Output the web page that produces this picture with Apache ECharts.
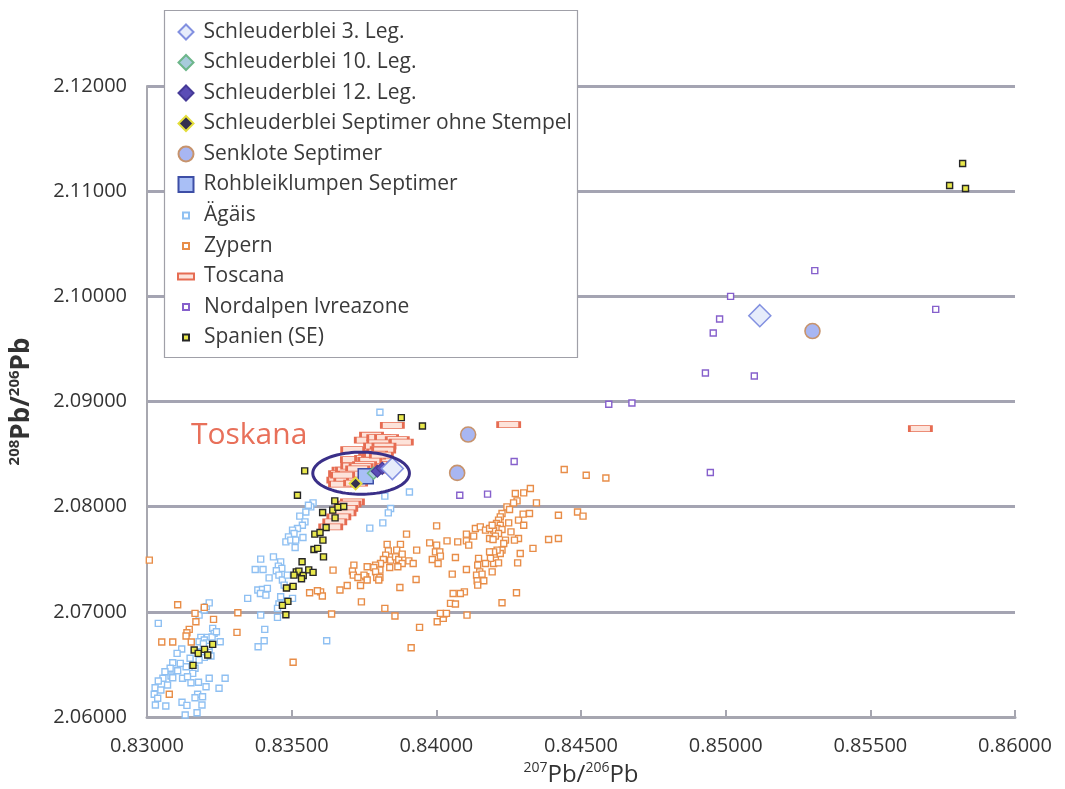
<!DOCTYPE html>
<html>
<head>
<meta charset="utf-8">
<title>Bleiisotopen</title>
<script src="https://cdn.jsdelivr.net/npm/echarts/dist/echarts.min.js"></script>
<style>
  html, body { margin: 0; padding: 0; background: #ffffff; }
  #chart { width: 1065px; height: 789px; }
</style>
</head>
<body>
<div id="chart"></div>
<script>
// 207Pb/206Pb (x) against 208Pb/206Pb (y)

const xTicks = { min: 0.83, max: 0.86, step: 0.005 };
const yTicks = { min: 2.06, max: 2.12, step: 0.01 };

const schleuder3 = [[0.85118, 2.09816], [0.83848, 2.08362]];
const schleuder10 = [[0.83783, 2.08318]];
const schleuder12 = [[0.83796, 2.08337], [0.83813, 2.08365]];
const schleuderOhne = [[0.83721, 2.08220]];
const senklote = [[0.85300, 2.09670], [0.84110, 2.08686], [0.84072, 2.08321]];
const rohblei = [[0.83756, 2.08290]];

const aegaeis = [
  [0.83805, 2.08898], [0.83907, 2.08140], [0.83822, 2.08100], [0.83842, 2.07983], [0.83834, 2.07941],
  [0.83815, 2.07846], [0.83770, 2.07796],
  [0.83574, 2.08036], [0.83566, 2.07998], [0.83558, 2.08014], [0.83549, 2.07950], [0.83528, 2.07910],
  [0.83546, 2.07855], [0.83537, 2.07824], [0.83520, 2.07793], [0.83503, 2.07777], [0.83508, 2.07745],
  [0.83489, 2.07713], [0.83480, 2.07665], [0.83497, 2.07682], [0.83514, 2.07682], [0.83539, 2.07707],
  [0.83512, 2.07612],
  [0.83393, 2.07501], [0.83437, 2.07523], [0.83462, 2.07475], [0.83454, 2.07435], [0.83466, 2.07413],
  [0.83447, 2.07390], [0.83456, 2.07349], [0.83468, 2.07302], [0.83374, 2.07403], [0.83401, 2.07403],
  [0.83422, 2.07323], [0.83383, 2.07207], [0.83399, 2.07213], [0.83392, 2.07175], [0.83411, 2.07159],
  [0.83416, 2.07223], [0.83348, 2.07128], [0.83503, 2.07128], [0.83480, 2.07105], [0.83456, 2.07074],
  [0.83451, 2.07033], [0.83393, 2.06969], [0.83451, 2.06947], [0.83407, 2.06833], [0.83405, 2.06725],
  [0.83384, 2.06668], [0.83621, 2.06725], [0.83485, 2.07349], [0.83474, 2.07254], [0.83462, 2.07143],
  [0.83039, 2.06890], [0.83180, 2.06969], [0.83198, 2.07017], [0.83227, 2.06843], [0.83232, 2.06795],
  [0.83209, 2.06757], [0.83186, 2.06757], [0.83180, 2.06715], [0.83120, 2.06646], [0.83104, 2.06605],
  [0.83198, 2.06732], [0.83253, 2.06715], [0.83215, 2.06637], [0.83221, 2.06580], [0.83198, 2.06567],
  [0.83180, 2.06542], [0.83149, 2.06558], [0.83135, 2.06478], [0.83166, 2.06463], [0.83158, 2.06415],
  [0.83115, 2.06510], [0.83089, 2.06516], [0.83080, 2.06463], [0.83083, 2.06390], [0.83062, 2.06430],
  [0.83055, 2.06368], [0.83039, 2.06342], [0.83028, 2.06278], [0.83025, 2.06216], [0.83037, 2.06178],
  [0.83048, 2.06257], [0.83071, 2.06304], [0.83089, 2.06373], [0.83106, 2.06440], [0.83123, 2.06368],
  [0.83140, 2.06383], [0.83152, 2.06326], [0.83178, 2.06330], [0.83215, 2.06368], [0.83204, 2.06288],
  [0.83270, 2.06368], [0.83249, 2.06273], [0.83175, 2.06216], [0.83192, 2.06193], [0.83166, 2.06183],
  [0.83121, 2.06140], [0.83138, 2.06111], [0.83065, 2.06105], [0.83029, 2.06114], [0.83173, 2.06041],
  [0.83132, 2.06019], [0.83190, 2.06114], [0.83205, 2.06705], [0.83212, 2.06672], [0.83195, 2.06695],
  [0.83188, 2.06620], [0.83225, 2.06760], [0.83240, 2.06810], [0.83205, 2.07050], [0.83215, 2.07085]
];

const zypern = [
  [0.83008, 2.07492], [0.83106, 2.07067], [0.83166, 2.06985], [0.83198, 2.07042], [0.83314, 2.06991],
  [0.83230, 2.06928], [0.83169, 2.06905], [0.83146, 2.06833], [0.83138, 2.06801], [0.83135, 2.06770],
  [0.83311, 2.06805], [0.83051, 2.06713], [0.83089, 2.06713], [0.83153, 2.06713], [0.83505, 2.06520],
  [0.83077, 2.06216],
  [0.83643, 2.07397], [0.83600, 2.07190], [0.83562, 2.07181], [0.83606, 2.07150], [0.83589, 2.07200],
  [0.83638, 2.06979], [0.83667, 2.07207], [0.83692, 2.07251], [0.83738, 2.07251], [0.83741, 2.07095],
  [0.83822, 2.07033], [0.83857, 2.06960], [0.83874, 2.07232], [0.83913, 2.06658], [0.83942, 2.06852],
  [0.84003, 2.06905], [0.84024, 2.06938], [0.84026, 2.06979], [0.84014, 2.06985], [0.84049, 2.07080],
  [0.84066, 2.07074], [0.84106, 2.06969], [0.84035, 2.06985],
  [0.84001, 2.07817], [0.83897, 2.07739], [0.83830, 2.07641], [0.83876, 2.07641], [0.83863, 2.07587],
  [0.83834, 2.07580], [0.83825, 2.07539], [0.83817, 2.07498], [0.83842, 2.07492], [0.83859, 2.07523],
  [0.83870, 2.07498], [0.83882, 2.07460], [0.83905, 2.07485], [0.83920, 2.07460], [0.83932, 2.07587],
  [0.83839, 2.07422], [0.83867, 2.07428], [0.83807, 2.07460], [0.83790, 2.07444], [0.83784, 2.07422],
  [0.83805, 2.07397], [0.83790, 2.07380], [0.83794, 2.07327], [0.83805, 2.07327], [0.83761, 2.07428],
  [0.83756, 2.07333], [0.83750, 2.07349], [0.83715, 2.07444], [0.83710, 2.07387], [0.83713, 2.07349],
  [0.83729, 2.07327], [0.83882, 2.07549], [0.83801, 2.07302], [0.83761, 2.07302], [0.83930, 2.07308],
  [0.84442, 2.08353], [0.84518, 2.08299], [0.84586, 2.08273], [0.84325, 2.08173], [0.84302, 2.08131],
  [0.84273, 2.08125], [0.84279, 2.08055], [0.84267, 2.08036], [0.84346, 2.08036], [0.84244, 2.07998],
  [0.84253, 2.07973], [0.84227, 2.07935], [0.84221, 2.07903], [0.84215, 2.07872], [0.84208, 2.07840],
  [0.84221, 2.07824], [0.84210, 2.07793], [0.84227, 2.07783], [0.84198, 2.07777], [0.84215, 2.07745],
  [0.84204, 2.07720], [0.84184, 2.07698], [0.84196, 2.07688], [0.84250, 2.07846], [0.84258, 2.07760],
  [0.84284, 2.07872], [0.84302, 2.07824], [0.84300, 2.07929], [0.84322, 2.07935], [0.84422, 2.07919],
  [0.84488, 2.07950], [0.84507, 2.07910], [0.84422, 2.07698], [0.84388, 2.07688], [0.84284, 2.07698],
  [0.84270, 2.07682], [0.84239, 2.07682], [0.84233, 2.07650], [0.84334, 2.07603], [0.84290, 2.07555],
  [0.84227, 2.07587], [0.84221, 2.07555], [0.84210, 2.07587], [0.84198, 2.07570], [0.84184, 2.07570],
  [0.84204, 2.07492], [0.84198, 2.07460], [0.84215, 2.07466], [0.84187, 2.07508], [0.84146, 2.07508],
  [0.84170, 2.07460], [0.84143, 2.07444], [0.84150, 2.07380], [0.84139, 2.07349], [0.84158, 2.07359],
  [0.84141, 2.07295], [0.84164, 2.07295], [0.84143, 2.07254], [0.84193, 2.07380], [0.84277, 2.07181],
  [0.84281, 2.07466], [0.84104, 2.07403], [0.84055, 2.07359], [0.84066, 2.07517], [0.84037, 2.07675],
  [0.84074, 2.07665], [0.84104, 2.07675], [0.84112, 2.07634], [0.84104, 2.07739], [0.84129, 2.07720],
  [0.84135, 2.07793], [0.84152, 2.07808], [0.84170, 2.07777], [0.84184, 2.07793], [0.84193, 2.07824],
  [0.84097, 2.07190], [0.84083, 2.07175], [0.84058, 2.07175], [0.84227, 2.07086], [0.83997, 2.07570],
  [0.84012, 2.07570], [0.84014, 2.07530], [0.83986, 2.07498], [0.84006, 2.07460], [0.83977, 2.07656],
  [0.84001, 2.07634]
];

const toscana = [
  [0.83848, 2.08774], [0.83776, 2.08679], [0.83758, 2.08632], [0.83801, 2.08657], [0.83828, 2.08657],
  [0.83865, 2.08638], [0.83879, 2.08613], [0.83801, 2.08606], [0.83790, 2.08575], [0.83819, 2.08575],
  [0.83813, 2.08543], [0.83711, 2.08543], [0.83796, 2.08505], [0.83710, 2.08448], [0.83779, 2.08442],
  [0.83681, 2.08347], [0.83669, 2.08315], [0.83681, 2.08277], [0.83663, 2.08252], [0.83704, 2.08252],
  [0.83669, 2.08214], [0.83710, 2.08045], [0.83698, 2.08024], [0.83687, 2.07983], [0.83681, 2.07941],
  [0.83663, 2.07903], [0.83649, 2.07855], [0.83635, 2.07808], [0.84250, 2.08781], [0.85673, 2.08743],
  [0.83773, 2.08489], [0.83787, 2.08460], [0.83766, 2.08423], [0.83780, 2.08394], [0.83756, 2.08366],
  [0.83738, 2.08347], [0.83725, 2.08328], [0.83711, 2.08309], [0.83697, 2.08290], [0.83687, 2.08271],
  [0.83794, 2.08423], [0.83807, 2.08460], [0.83801, 2.08518], [0.83818, 2.08537], [0.83773, 2.08366],
  [0.83745, 2.08309], [0.83731, 2.08271], [0.83721, 2.08223], [0.83759, 2.08460], [0.83787, 2.08347],
  [0.83693, 2.08347], [0.83711, 2.08385], [0.83783, 2.08480], [0.83770, 2.08440], [0.83752, 2.08400],
  [0.83740, 2.08380], [0.83728, 2.08360], [0.83700, 2.08310], [0.83676, 2.08300], [0.83790, 2.08500],
  [0.83810, 2.08490]
];

const nordalpen = [
  [0.85308, 2.10244], [0.85017, 2.10000], [0.84979, 2.09784], [0.84957, 2.09651], [0.85726, 2.09876],
  [0.84930, 2.09271], [0.85099, 2.09242], [0.84596, 2.08974], [0.84676, 2.08986], [0.84947, 2.08325],
  [0.84269, 2.08429], [0.84081, 2.08109], [0.84177, 2.08119]
];

const spanien = [
  [0.85819, 2.11263], [0.85774, 2.11054], [0.85829, 2.11026],
  [0.83879, 2.08847], [0.83952, 2.08767], [0.83545, 2.08340], [0.83520, 2.08109], [0.83649, 2.08055],
  [0.83642, 2.07967], [0.83660, 2.07995], [0.83680, 2.08002], [0.83607, 2.07945], [0.83650, 2.07893],
  [0.83619, 2.07802], [0.83580, 2.07739], [0.83598, 2.07755], [0.83608, 2.07682], [0.83577, 2.07593],
  [0.83590, 2.07603], [0.83610, 2.07523], [0.83536, 2.07476], [0.83516, 2.07380], [0.83525, 2.07387],
  [0.83508, 2.07349], [0.83540, 2.07346], [0.83534, 2.07314], [0.83559, 2.07399], [0.83574, 2.07375],
  [0.83505, 2.07242], [0.83482, 2.07226], [0.83487, 2.07099], [0.83468, 2.07061], [0.83480, 2.06972],
  [0.83163, 2.06637], [0.83177, 2.06605], [0.83199, 2.06643], [0.83210, 2.06589], [0.83227, 2.06691],
  [0.83159, 2.06491]
];

// encircled group and its caption
const ringCenter = [0.83740, 2.08318];
const ringRadius = [0.00167, 0.00200];
const captionAt = [0.83152, 2.08679];
const captionText = 'Toskana';

const FONT = "'Open Sans', 'Noto Sans', sans-serif";
const fmt5 = v => v.toFixed(5);

function scatter(name, data, symbol, size, fill, border, bw, z) {
  return {
    name, type: 'scatter', data, symbol, symbolSize: size, z,
    itemStyle: { color: fill, borderColor: border, borderWidth: bw, opacity: 1 },
    emphasis: { disabled: true }, silent: true, animation: false
  };
}

const legendText = { fontSize: 21, color: '#3a3a3a', lineHeight: 30, fontFamily: FONT };

const chart = echarts.init(document.getElementById('chart'), null, { renderer: 'canvas' });
chart.setOption({
  animation: false,
  backgroundColor: '#ffffff',
  textStyle: { fontFamily: FONT },
  grid: { left: 147, right: 50, top: 86, bottom: 72, containLabel: false, outerBoundsMode: 'none' },
  xAxis: {
    type: 'value', min: xTicks.min, max: xTicks.max, interval: xTicks.step,
    axisLine: { show: true, onZero: false, lineStyle: { color: '#a6a6b0', width: 3 } },
    axisTick: { show: true, inside: true, length: 7, lineStyle: { color: '#a6a6b0', width: 2 } },
    axisLabel: { formatter: fmt5, fontSize: 20, color: '#333333', margin: 19, fontFamily: FONT },
    splitLine: { show: false },
    name: '{s|207}{b|Pb/}{s|206}{b|Pb}',
    nameLocation: 'middle', nameGap: 44,
    nameTextStyle: {
      color: '#333333',
      rich: {
        s: { fontSize: 14, verticalAlign: 'top', lineHeight: 14, fontFamily: FONT, color: '#333333' },
        b: { fontSize: 24, lineHeight: 28, fontFamily: FONT, color: '#333333' }
      }
    }
  },
  yAxis: {
    type: 'value', min: yTicks.min, max: yTicks.max, interval: yTicks.step,
    axisLine: { show: true, onZero: false, lineStyle: { color: '#a8a8b0', width: 2 } },
    axisTick: { show: false },
    axisLabel: { formatter: fmt5, fontSize: 20, color: '#333333', margin: 20, fontFamily: FONT },
    splitLine: { show: true, lineStyle: { color: '#a4a4b2', width: 3 } },
    name: '{s|208}{b|Pb/}{s|206}{b|Pb}',
    nameLocation: 'middle', nameGap: 110, nameRotate: 90,
    nameTextStyle: {
      color: '#333333',
      rich: {
        s: { fontSize: 15, fontWeight: 'bold', verticalAlign: 'top', lineHeight: 15, fontFamily: FONT, color: '#333333' },
        b: { fontSize: 26, fontWeight: 'bold', lineHeight: 30, fontFamily: FONT, color: '#333333' }
      }
    }
  },
  graphic: [{
    type: 'rect', z: 3,
    shape: { x: 164.5, y: 10.5, width: 413, height: 347 },
    style: { fill: '#ffffff', stroke: '#a0a0a8', lineWidth: 1.2 }
  }],
  legend: [
    {
      orient: 'vertical', left: 177.5, top: 17, padding: 0, itemGap: 0.5,
      itemWidth: 15, itemHeight: 15, selectedMode: false, z: 5,
      textStyle: Object.assign({ padding: [0, 0, 0, 5] }, legendText),
      data: ['Schleuderblei 3. Leg.', 'Schleuderblei 10. Leg.', 'Schleuderblei 12. Leg.',
             'Schleuderblei Septimer ohne Stempel', 'Senklote Septimer', 'Rohbleiklumpen Septimer']
    },
    {
      orient: 'vertical', left: 182, top: 200.5, padding: 0, itemGap: 0.5,
      itemWidth: 6, itemHeight: 6, selectedMode: false, z: 5,
      textStyle: Object.assign({ padding: [0, 0, 0, 10] }, legendText),
      data: ['Ägäis', 'Zypern']
    },
    {
      orient: 'vertical', left: 177, top: 261.5, padding: 0, itemGap: 0.5,
      itemWidth: 16, itemHeight: 6, selectedMode: false, z: 5,
      textStyle: Object.assign({ padding: [0, 0, 0, 5] }, legendText),
      data: ['Toscana']
    },
    {
      orient: 'vertical', left: 182, top: 292, padding: 0, itemGap: 0.5,
      itemWidth: 6, itemHeight: 6, selectedMode: false, z: 5,
      textStyle: Object.assign({ padding: [0, 0, 0, 10] }, legendText),
      data: ['Nordalpen Ivreazone', 'Spanien (SE)']
    }
  ],
  series: [
    scatter('Ägäis', aegaeis, 'rect', 6, '#ffffff', '#8fc0f2', 1.4, 2),
    scatter('Zypern', zypern, 'rect', 6, '#ffffff', '#e88d48', 1.4, 2),
    scatter('Toscana', toscana, 'rect', [22, 6], '#fde3da', '#e66c52', 1.5, 3),
    scatter('Nordalpen Ivreazone', nordalpen, 'rect', 6, '#ffffff', '#8660cc', 1.4, 3),
    scatter('Spanien (SE)', spanien, 'rect', 6, '#e9e84c', '#262626', 1.4, 4),
    scatter('Senklote Septimer', senklote, 'circle', 15, '#a8b6f2', '#c7936c', 1.6, 5),
    scatter('Rohbleiklumpen Septimer', rohblei, 'rect', 15, '#a9bff6', '#3d4ea6', 1.5, 5),
    scatter('Schleuderblei 10. Leg.', schleuder10, 'diamond', 12, '#a8cbdc', '#6db68a', 1.5, 5),
    scatter('Schleuderblei 12. Leg.', schleuder12, 'diamond', 12, '#5b4db6', '#463a98', 1.2, 5),
    scatter('Schleuderblei Septimer ohne Stempel', schleuderOhne, 'diamond', 12, '#35314f', '#e4de3c', 1.8, 5),
    scatter('Schleuderblei 3. Leg.', schleuder3, 'diamond', 22, '#e6ecfb', '#8290e0', 1.5, 5),
    {
      type: 'custom', z: 6, silent: true, animation: false,
      data: [[ringCenter[0], ringCenter[1], ringRadius[0], ringRadius[1]]],
      renderItem: function (params, api) {
        const c = api.coord([api.value(0), api.value(1)]);
        const ex = api.coord([api.value(0) + api.value(2), api.value(1)]);
        const ey = api.coord([api.value(0), api.value(1) + api.value(3)]);
        const rx = ex[0] - c[0], ry = c[1] - ey[1];
        const pts = [];
        for (let i = 0; i < 96; i++) {
          const t = i / 96 * Math.PI * 2;
          pts.push([c[0] + rx * Math.cos(t), c[1] + ry * Math.sin(t)]);
        }
        return { type: 'polygon', shape: { points: pts },
                 style: { fill: 'none', stroke: '#3a2f88', lineWidth: 3 } };
      }
    },
    {
      type: 'custom', z: 6, silent: true, animation: false,
      data: [captionAt],
      renderItem: function (params, api) {
        const p = api.coord([api.value(0), api.value(1)]);
        return { type: 'text', x: p[0], y: p[1],
                 style: { text: captionText, fill: '#e8705a', fontSize: 30, fontFamily: FONT,
                          align: 'left', verticalAlign: 'middle' } };
      }
    }
  ]
});
</script>
</body>
</html>
